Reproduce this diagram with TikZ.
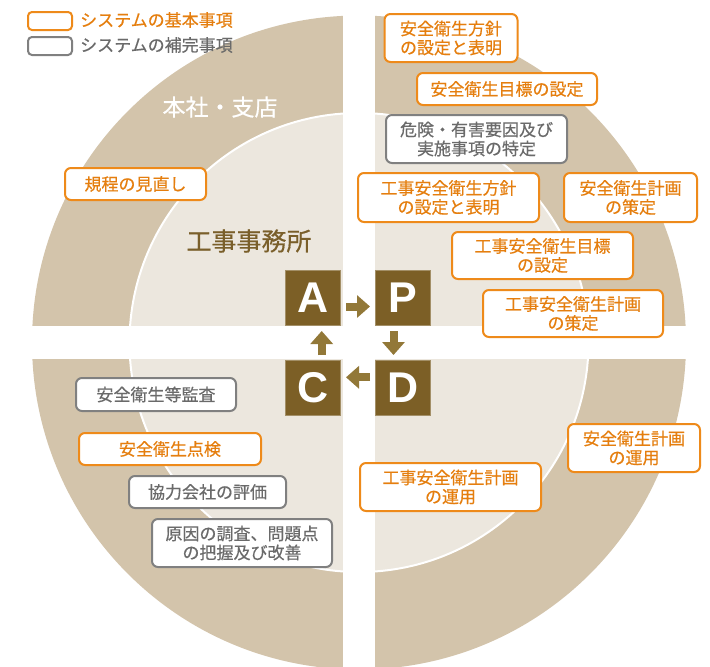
\documentclass[tikz,border=0pt]{standalone}
\usepackage{fontspec}
\setmainfont{Noto Sans CJK JP}[FakeBold=0.5]
\newfontfamily\latb{Liberation Sans}
\usetikzlibrary{arrows.meta}
\definecolor{tanc}{HTML}{D3C4AB}
\definecolor{innerc}{HTML}{ECE7DE}
\definecolor{brownc}{HTML}{7C5F26}
\definecolor{browntxt}{HTML}{7A5F2A}
\definecolor{arrowc}{HTML}{927838}
\definecolor{arrowd}{HTML}{7C6125}
\definecolor{orb}{HTML}{EE8A1A}
\definecolor{ort}{HTML}{E57E0E}
\definecolor{grb}{HTML}{808080}
\definecolor{grt}{HTML}{6A6A6A}
\tikzset{
  box/.style={fill=white, line width=2pt, rounded corners=6pt, inner sep=0pt, align=center,
    font=\fontsize{17}{19}\selectfont},
  obox/.style={box, draw=orb, text=ort},
  gbox/.style={box, draw=grb, text=grt},
  pdca/.style={fill=brownc, draw=brownc!70!white, line width=1pt, minimum size=55pt, inner sep=0pt,
    text=white, font=\latb\bfseries\fontsize{43}{43}\selectfont},
  parr/.style={draw=arrowc, line width=8pt, -{Triangle[width=22pt,length=13pt]},
    shorten <=5pt, shorten >=5pt},
  legtxt/.style={anchor=west, inner sep=0pt, font=\fontsize{17}{19}\selectfont}
}
\begin{document}
\begin{tikzpicture}[x=1pt,y=-1pt]
\useasboundingbox (0,0) rectangle (710,667);
\begin{scope}
\clip (0,0) rectangle (710,667);
\fill[white] (0,0) rectangle (710,667);
\fill[tanc] (359,342.5) circle (327);
\filldraw[fill=innerc, draw=white, line width=2pt] (359,342.5) circle (229.5);
\fill[white] (343,-5) rectangle (375,672);
\fill[white] (-5,326) rectangle (715,359);
\end{scope}

% legend
\node[obox, minimum width=44pt, minimum height=18pt, rounded corners=4pt] (lg1) at (50,21) {};
\node[gbox, minimum width=44pt, minimum height=18pt, rounded corners=4pt] (lg2) at (50,46) {};
\node[legtxt, text=ort] (lt1) at (80,20) {システムの基本事項};
\node[legtxt, text=grt] (lt2) at (80,45) {システムの補完事項};

% area labels
\node[text=white, font=\fontsize{23}{23}\selectfont] (hq) at (220,107) {本社・支店};
\node[text=browntxt, font=\fontsize{25}{25}\selectfont] (site) at (249,241) {工事事務所};

% boxes
\node[obox, minimum width=133pt, minimum height=48pt] (b1) at (451,38) {安全衛生方針\\の設定と表明};
\node[obox, minimum width=180pt, minimum height=32pt] (b2) at (507,89) {安全衛生目標の設定};
\node[gbox, minimum width=181pt, minimum height=48pt] (b3) at (476.5,139) {危険・有害要因及び\\実施事項の特定};
\node[obox, minimum width=181pt, minimum height=49pt] (b4) at (448.5,197.5) {工事安全衛生方針\\の設定と表明};
\node[obox, minimum width=133pt, minimum height=49pt] (b5) at (630.5,197.5) {安全衛生計画\\の策定};
\node[obox, minimum width=181pt, minimum height=47pt] (b6) at (542.5,255.5) {工事安全衛生目標\\の設定};
\node[obox, minimum width=180pt, minimum height=47pt] (b7) at (573,313.5) {工事安全衛生計画\\の策定};
\node[obox, minimum width=132pt, minimum height=48pt] (b8) at (634,448) {安全衛生計画\\の運用};
\node[obox, minimum width=181pt, minimum height=48pt] (b9) at (450.5,487) {工事安全衛生計画\\の運用};
\node[gbox, minimum width=160pt, minimum height=33pt] (b10) at (156,394.5) {安全衛生等監査};
\node[obox, minimum width=182pt, minimum height=32pt] (b11) at (170,449) {安全衛生点検};
\node[gbox, minimum width=157pt, minimum height=32pt] (b12) at (207.5,492) {協力会社の評価};
\node[gbox, minimum width=180pt, minimum height=48pt] (b13) at (242,543) {原因の調査、問題点\\の把握及び改善};
\node[obox, minimum width=141pt, minimum height=32pt] (b14) at (135.5,184) {規程の見直し};

% PDCA
\node[pdca] (A) at (313,298) {A};
\node[pdca] (P) at (403,298) {P};
\node[pdca] (C) at (313,388) {C};
\node[pdca] (D) at (403,388) {D};
\draw[parr] ([yshift=-8.5pt]A.east) -- ([yshift=-8.5pt]P.west);
\draw[parr] ([xshift=-9.5pt]P.south) -- ([xshift=-9.5pt]D.north);
\draw[parr] ([yshift=10.7pt]D.west) -- ([yshift=10.7pt]C.east);
\draw[parr] ([xshift=8.7pt]C.north) -- ([xshift=8.7pt]A.south);
\end{tikzpicture}
\end{document}
